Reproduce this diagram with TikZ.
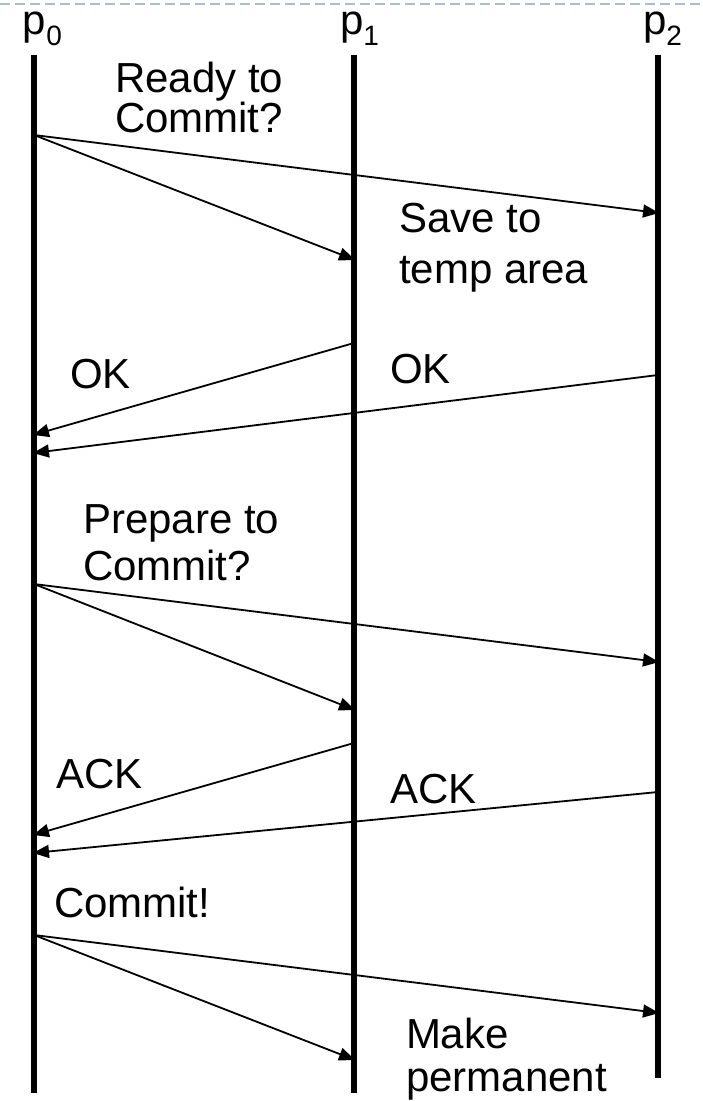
\documentclass[tikz,border=0pt]{standalone}
\usepackage{fontspec}
\setmainfont{Liberation Sans}
\usetikzlibrary{arrows.meta}
\definecolor{dashblue}{HTML}{A9BCD0}
\begin{document}
\begin{tikzpicture}[x=1pt,y=-1pt,
  lifeline/.style={line width=6pt},
  msg/.style={line width=1.8pt,-{Triangle[length=16pt,width=13pt]}},
  lbl/.style={anchor=base west,inner sep=0pt,outer sep=0pt,font=\fontsize{42}{42}\selectfont},
  proc/.style={anchor=base west,inner sep=0pt,outer sep=0pt,font=\fontsize{42}{42}\selectfont}]
\useasboundingbox (0,0) rectangle (703,1101);
\draw[dashblue,line width=2.5pt,dash pattern=on 10pt off 5pt] (0,4) -- (703,4);
% process labels
\node[proc] (p0) at (23,34) {p\raisebox{-11pt}{\fontsize{28}{28}\selectfont 0}};
\node[proc] (p1) at (340,34) {p\raisebox{-11pt}{\fontsize{28}{28}\selectfont 1}};
\node[proc] (p2) at (643,34) {p\raisebox{-11pt}{\fontsize{28}{28}\selectfont 2}};
% lifelines
\coordinate (t0) at (34,55);  \coordinate (b0) at (34,1093);
\coordinate (t1) at (354,55); \coordinate (b1) at (354,1093);
\coordinate (t2) at (658,55); \coordinate (b2) at (658,1078);
\draw[lifeline] (t0) -- (b0);
\draw[lifeline] (t1) -- (b1);
\draw[lifeline] (t2) -- (b2);
% message end points
\coordinate (r0) at (34,135);  \coordinate (r1) at (355,260); \coordinate (r2) at (659,213);
\coordinate (o1) at (354,343); \coordinate (o2) at (658,375);
\coordinate (o1e) at (33,435); \coordinate (o2e) at (33,453);
\coordinate (q0) at (34,584);  \coordinate (q1) at (355,710); \coordinate (q2) at (659,662);
\coordinate (a1) at (354,743); \coordinate (a2) at (658,792);
\coordinate (a1e) at (33,835); \coordinate (a2e) at (33,853);
\coordinate (c0) at (34,935);  \coordinate (c1) at (355,1060); \coordinate (c2) at (659,1013);
% messages
\draw[msg] (r0) -- (r2);
\draw[msg] (r0) -- (r1);
\draw[msg] (o1) -- (o1e);
\draw[msg] (o2) -- (o2e);
\draw[msg] (q0) -- (q2);
\draw[msg] (q0) -- (q1);
\draw[msg] (a1) -- (a1e);
\draw[msg] (a2) -- (a2e);
\draw[msg] (c0) -- (c2);
\draw[msg] (c0) -- (c1);
% labels
\node[lbl] (l1) at (115,92) {Ready to};
\node[lbl] (l2) at (115,132) {Commit?};
\node[lbl] (l3) at (399,232) {Save to};
\node[lbl] (l4) at (399,283) {temp area};
\node[lbl] (l5) at (70,388) {OK};
\node[lbl] (l6) at (390,383) {OK};
\node[lbl] (l7) at (83,533) {Prepare to};
\node[lbl] (l8) at (83,580) {Commit?};
\node[lbl] (l9) at (56,788) {ACK};
\node[lbl] (l10) at (390,803) {ACK};
\node[lbl] (l11) at (54,917) {Commit!};
\node[lbl] (l12) at (406,1048) {Make};
\node[lbl] (l13) at (406,1091) {permanent};
\end{tikzpicture}
\end{document}
